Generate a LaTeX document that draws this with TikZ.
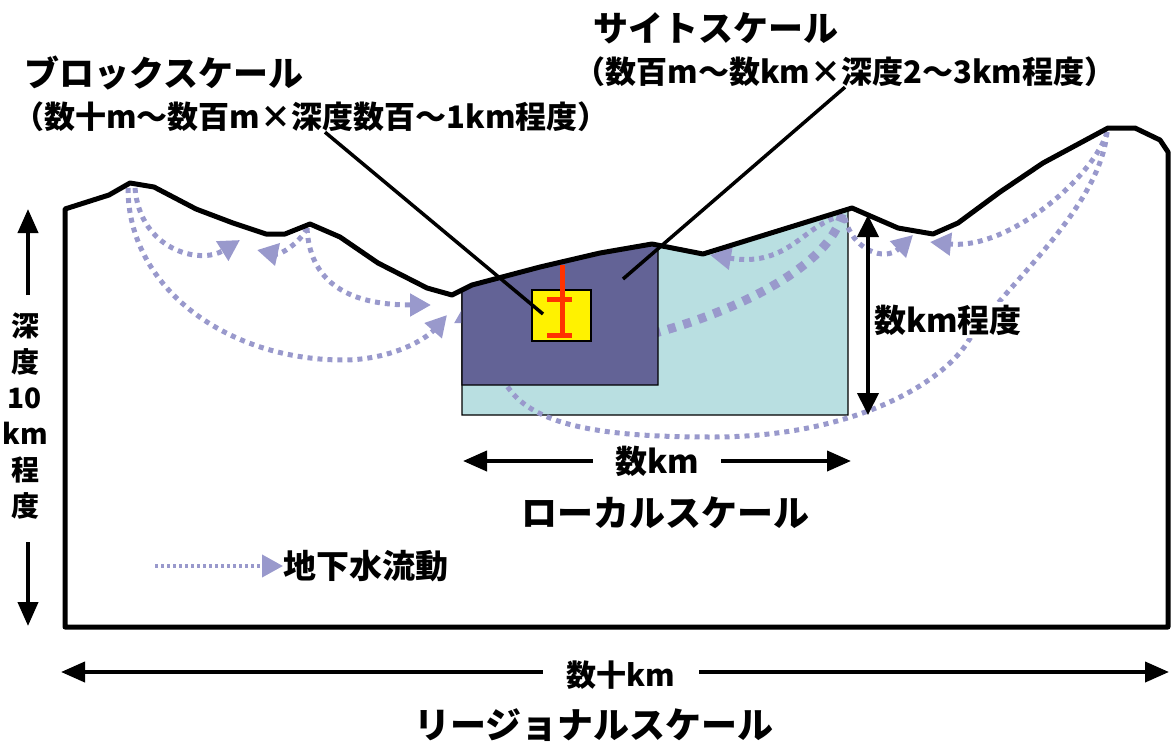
\documentclass[tikz,border=0pt]{standalone}
\usepackage{fontspec}
\setmainfont{Noto Sans CJK JP}
\usetikzlibrary{arrows.meta}
\definecolor{seepage}{RGB}{153,153,204}
\definecolor{sitecol}{RGB}{99,99,150}
\definecolor{localcol}{RGB}{185,223,225}
\definecolor{rockred}{RGB}{255,51,0}
\newcommand{\jsize}[1]{\fontsize{#1}{#1}\selectfont\bfseries}
\newcommand{\seep}[4]{\draw[flow] (#1) .. controls (#2) and (#3) .. (#4)}
\newcommand{\crossbar}[1]{\draw[rockred,line width=5pt] (547,#1) --++ (25,0)}

\begin{document}
\begin{tikzpicture}[x=1pt,y=-1pt,
	flow/.style={draw=seepage,line width=5pt,dash pattern=on 5pt off 5pt,
		-{Triangle[length=21pt,width=22pt,fill=seepage]}},
	bigflow/.style={flow,-,line width=9pt,dash pattern=on 8pt off 8pt},
	ground/.style={line width=5pt,line join=round},
	box/.style={draw=black,line width=1.2pt},
	leader/.style={line width=3.5pt},
	tip/.style={line width=4pt,-{Triangle[length=24pt,width=20pt]}},
	both/.style={line width=4pt,{Triangle[length=22pt,width=21pt]}-{Triangle[length=22pt,width=21pt]}},
	jtext/.style={inner sep=0pt,font=\jsize{#1}}]
\useasboundingbox (0,0) rectangle (1171,745);
%Local scale block
	\draw[box,fill=localcol] (462,415) -- (462,290) -- (472,285) -- (540,267)
		-- (600,253) -- (652,244) -- (703,254) -- (848,210) -- (848,415) -- cycle;
%Groundwater flow
	\seep{135,188}{140,250}{200,265}{240,240};
	\draw[flow] (128,188) .. controls (128,290) and (230,360) .. (343,360)
		.. controls (390,360) and (425,340) .. (447,315);
	\seep{307,228}{300,243}{280,255}{257,250};
	\seep{307,228}{310,290}{360,305}{431,305};
	\seep{1107,132}{1095,175}{1010,250}{930,242};
	\seep{845,218}{852,250}{885,262}{913,235};
	\seep{843,216}{805,222}{790,268}{710,255};
	\draw[flow] (1107,132) .. controls (1100,210) and (1000,290) .. (967,343)
		.. controls (940,385) and (850,437) .. (713,437)
		.. controls (620,437) and (540,430) .. (510,390)
		.. controls (492,366) and (466,335) .. (466,302);
	\draw[bigflow] (842,214) .. controls (830,265) and (740,310) .. (655,333);
%Site scale block
	\draw[box,fill=sitecol] (462,385) -- (462,290) -- (472,285) -- (540,267)
		-- (600,253) -- (652,244) -- (658,245) -- (658,385) -- cycle;
%Block scale
	\draw[box,fill=yellow] (532,290) rectangle (591,341);
	\draw[rockred,line width=5pt] (562,265) -- (562,337);
	\crossbar{299};
	\crossbar{335};
%Ground surface
	\draw[ground] (65,627) -- (65,209) -- (109,195) -- (130,183) -- (154,187)
		-- (196,209) -- (233,223) -- (266,234) -- (285,234) -- (310,224)
		-- (340,237) -- (378,263) -- (427,288) -- (452,295) -- (472,285)
		-- (540,267) -- (600,253) -- (652,244) -- (703,254) -- (852,208)
		-- (898,228) -- (933,234) -- (958,223) -- (1000,192) -- (1043,163)
		-- (1108,128) -- (1135,128) -- (1160,140) -- (1168,152) -- (1168,627) -- cycle;
%Titles
	\node[jtext=35] (blocktitle) at (164,73) {ブロックスケール};
	\node[jtext=31] (blocksub) at (311,117) {（数十m～数百m×深度数百～1km程度）};
	\node[jtext=35] (sitetitle) at (716,28) {サイトスケール};
	\node[jtext=31] (sitesub) at (845,72) {（数百m～数km×深度2～3km程度）};
	\draw[leader] ([xshift=14pt]blocksub.south) -- (543,314);
	\draw[leader] (sitesub.south) -- (623,279);
%Depths
	\coordinate (kmtop) at (868,215);
	\coordinate (kmbot) at (868,415);
	\draw[both] (kmtop) -- (kmbot);
	\node[jtext=32,fill=white,inner sep=3pt] (kmdepth) at (948,320) {数km程度};
	\node[inner sep=0pt,font=\fontsize{28}{36}\selectfont\bfseries,align=center]
		(deep) at (25,416) {深\\度\\10\\km\\程\\度};
	\coordinate (deepup) at (28,295);
	\coordinate (deeptop) at (28,209);
	\coordinate (deepdown) at (28,542);
	\coordinate (deepbot) at (28,626);
	\draw[tip] (deepup) -- (deeptop);
	\draw[tip] (deepdown) -- (deepbot);
%Widths
	\node[jtext=32,inner xsep=22pt] (localw) at (657,461) {数km};
	\coordinate (lleft) at (463,461);
	\coordinate (lright) at (851,461);
	\draw[tip] (localw) -- (lleft);
	\draw[tip] (localw) -- (lright);
	\node[jtext=36] (local) at (665,513) {ローカルスケール};
	\node[jtext=30,inner xsep=24pt] (regionw) at (621,675) {数十km};
	\coordinate (rleft) at (61,672);
	\coordinate (rright) at (1169,672);
	\draw[tip] (regionw.west |- rleft) -- (rleft);
	\draw[tip] (regionw.east |- rright) -- (rright);
	\node[jtext=36] (region) at (594,725) {リージョナルスケール};
%Legend
	\coordinate (keyfrom) at (155,566);
	\node[jtext=33,anchor=west] (key) at (283,566) {地下水流動};
	\draw[flow,line width=4pt,dash pattern=on 3pt off 3pt] (keyfrom) -- (key.west);
\end{tikzpicture}
\end{document}
